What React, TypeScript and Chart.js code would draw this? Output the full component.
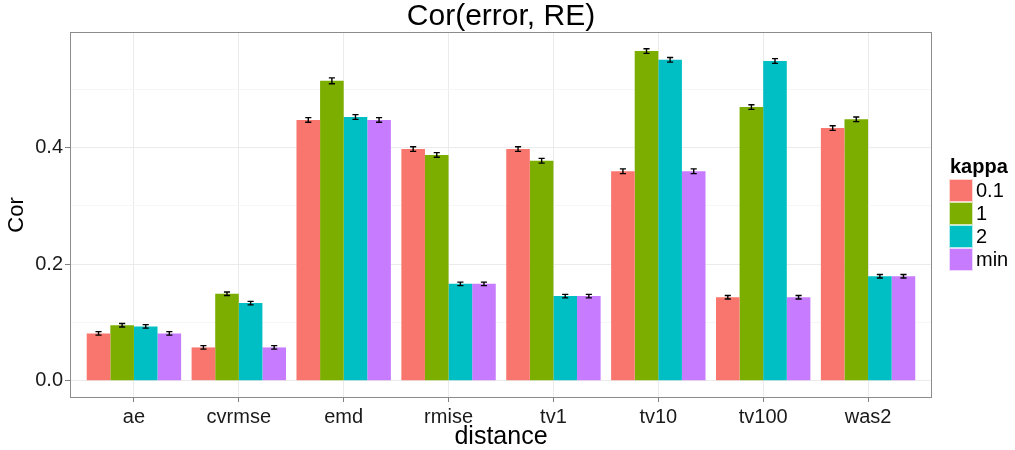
import React, { useEffect, useRef } from "react";
import { Chart, registerables } from "chart.js";

Chart.register(...registerables);

const categories = ["ae", "cvrmse", "emd", "rmise", "tv1", "tv10", "tv100", "was2"];
const seriesNames = ["0.1", "1", "2", "min"];
const seriesColors = ["#F8766D", "#7CAE00", "#00BFC4", "#C77CFF"];

const kappa01 = [0.081, 0.057, 0.447, 0.397, 0.397, 0.359, 0.143, 0.433];
const kappa1 = [0.095, 0.149, 0.514, 0.387, 0.377, 0.565, 0.469, 0.448];
const kappa2 = [0.093, 0.133, 0.452, 0.166, 0.145, 0.550, 0.548, 0.179];
const kappaMin = [0.081, 0.057, 0.447, 0.166, 0.145, 0.359, 0.143, 0.179];

const err01 = [0.003, 0.003, 0.004, 0.004, 0.004, 0.004, 0.003, 0.004];
const err1 = [0.003, 0.003, 0.005, 0.004, 0.004, 0.004, 0.004, 0.004];
const err2 = [0.003, 0.003, 0.004, 0.003, 0.003, 0.004, 0.004, 0.003];
const errMin = [0.003, 0.003, 0.004, 0.003, 0.003, 0.004, 0.003, 0.003];

const yTickLabels = ["0.0", "0.2", "0.4"];
const titleText = "Cor(error, RE)";
const xTitle = "distance";
const yTitle = "Cor";
const legendTitle = "kappa";

const FONT = "'Liberation Sans', Arial, Helvetica, sans-serif";

const allValues = [kappa01, kappa1, kappa2, kappaMin];
const allErrors = [err01, err1, err2, errMin];

const errorBarPlugin = {
  id: "errorBars",
  afterDatasetsDraw(chart: any) {
    const ctx = chart.ctx;
    const yScale = chart.scales.y;
    ctx.save();
    ctx.strokeStyle = "#000";
    ctx.lineWidth = 1.4;
    chart.data.datasets.forEach((ds: any, di: number) => {
      const meta = chart.getDatasetMeta(di);
      const errs = allErrors[di];
      meta.data.forEach((el: any, i: number) => {
        const v = allValues[di][i];
        const e = errs[i];
        const x = el.x;
        const half = el.width * 0.13;
        const yTop = yScale.getPixelForValue(v + e);
        const yBot = yScale.getPixelForValue(v - e);
        ctx.beginPath();
        ctx.moveTo(x, yTop);
        ctx.lineTo(x, yBot);
        ctx.moveTo(x - half, yTop);
        ctx.lineTo(x + half, yTop);
        ctx.moveTo(x - half, yBot);
        ctx.lineTo(x + half, yBot);
        ctx.stroke();
      });
    });
    ctx.restore();
  },
};

const borderLegendPlugin = {
  id: "borderLegend",
  afterDraw(chart: any) {
    const ctx = chart.ctx;
    const a = chart.chartArea;
    ctx.save();
    ctx.strokeStyle = "#8c8c8c";
    ctx.lineWidth = 1;
    ctx.strokeRect(a.left - 0.5, a.top - 0.5, a.right - a.left + 1, a.bottom - a.top + 1);

    // legend
    const lx = 949;
    let ly = 179;
    const bw = 24;
    const bh = 23;
    ctx.fillStyle = "#000";
    ctx.font = `bold 20px ${FONT}`;
    ctx.textAlign = "left";
    ctx.textBaseline = "alphabetic";
    ctx.fillText(legendTitle, lx + 1, 173);
    ctx.font = `20px ${FONT}`;
    ctx.textBaseline = "middle";
    seriesNames.forEach((name, i) => {
      ctx.fillStyle = seriesColors[i];
      ctx.fillRect(lx, ly, bw, bh);
      ctx.strokeStyle = "rgba(255,255,255,0.7)";
      ctx.strokeRect(lx + 0.5, ly + 0.5, bw - 1, bh - 1);
      ctx.fillStyle = "#000";
      ctx.fillText(name, lx + bw + 3, ly + bh / 2 + 1);
      ly += bh;
    });
    ctx.restore();
  },
};

export default function App() {
  const canvasRef = useRef<HTMLCanvasElement | null>(null);

  useEffect(() => {
    document.body.style.margin = "0";
    const canvas = canvasRef.current;
    if (!canvas) return;
    const datasets = allValues.map((vals, di) => ({
      label: seriesNames[di],
      data: vals.map((v, i) => ({ x: i + 1, y: v })),
      backgroundColor: seriesColors[di],
      borderWidth: 0,
      categoryPercentage: 0.9,
      barPercentage: 1.0,
    }));

    const chart = new Chart(canvas, {
      type: "bar",
      data: { datasets },
      plugins: [errorBarPlugin, borderLegendPlugin],
      options: {
        animation: false,
        responsive: true,
        maintainAspectRatio: false,
        events: [],
        layout: { padding: { left: 0, right: 84, top: 0, bottom: 0 } },
        plugins: {
          legend: { display: false },
          tooltip: { enabled: false },
          title: {
            display: true,
            text: titleText,
            fullSize: false,
            color: "#000",
            padding: 0,
            font: { family: FONT, size: 30, weight: "normal", lineHeight: 1.1 },
          },
        },
        scales: {
          x: {
            type: "linear",
            min: 0.4,
            max: 8.6,
            offset: false,
            afterFit(scale: any) {
              scale.height = 53;
            },
            border: { display: false },
            grid: {
              offset: false,
              color: "#ebebeb",
              tickColor: "#7f7f7f",
              tickLength: 5,
              drawTicks: true,
            },
            ticks: {
              stepSize: 1,
              includeBounds: false,
              autoSkip: false,
              maxRotation: 0,
              padding: 3,
              color: "#1a1a1a",
              font: { family: FONT, size: 20 },
              callback: (v: any) => {
                const idx = Math.round(Number(v)) - 1;
                return categories[idx] ?? "";
              },
            },
            title: {
              display: true,
              text: xTitle,
              color: "#000",
              font: { family: FONT, size: 25, lineHeight: 1.0 },
              padding: { top: 0, bottom: 0 },
            },
          },
          y: {
            type: "linear",
            min: -0.028,
            max: 0.596,
            beginAtZero: false,
            afterFit(scale: any) {
              scale.width = 71;
            },
            border: { display: false },
            grid: {
              color: (c: any) => {
                const k = Math.round((c.tick?.value ?? 0) * 10);
                return k % 2 === 0 ? "#ebebeb" : "#f6f6f6";
              },
              tickColor: (c: any) => {
                const k = Math.round((c.tick?.value ?? 0) * 10);
                return k % 2 === 0 ? "#7f7f7f" : "rgba(0,0,0,0)";
              },
              tickLength: 6,
            },
            ticks: {
              stepSize: 0.1,
              includeBounds: false,
              autoSkip: false,
              padding: 2,
              color: "#1a1a1a",
              font: { family: FONT, size: 20 },
              callback: (v: any) => {
                const k = Math.round(Number(v) * 10);
                if (k % 2 !== 0) return "";
                return yTickLabels[k / 2] ?? "";
              },
            },
            title: {
              display: true,
              text: yTitle,
              color: "#000",
              font: { family: FONT, size: 22 },
              padding: { top: 4, bottom: 0 },
            },
          },
        },
      } as any,
    });
    return () => chart.destroy();
  }, []);

  return (
    <div style={{ position: "relative", width: 1015, height: 450 }}>
      <canvas ref={canvasRef} />
    </div>
  );
}
